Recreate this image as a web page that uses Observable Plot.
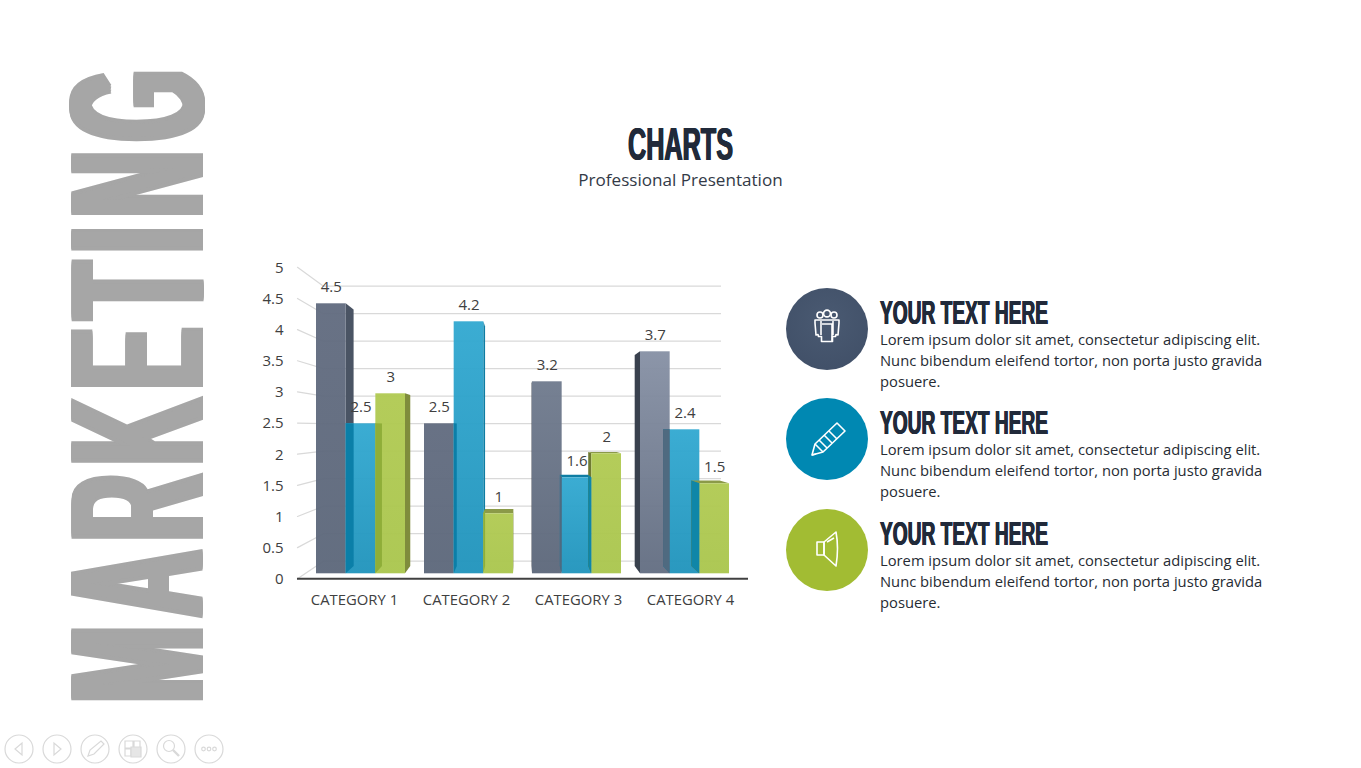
<!DOCTYPE html>
<html><head><meta charset="utf-8">
<script src="https://cdn.jsdelivr.net/npm/d3@7"></script>
<script src="https://cdn.jsdelivr.net/npm/@observablehq/plot@0.6"></script>
<style>
html,body{margin:0;padding:0;background:#fff;width:1361px;height:768px;overflow:hidden}
body{position:relative;font-family:"Open Sans",sans-serif}
.abs{position:absolute;white-space:nowrap}
#big{left:0;top:0;font:700 191px/1 "Liberation Sans",sans-serif;color:#a6a6a6;transform-origin:0 0;letter-spacing:22px;
 text-shadow:-9px 0 #a6a6a6,-6px 0 #a6a6a6,-3px 0 #a6a6a6,3px 0 #a6a6a6,6px 0 #a6a6a6,9px 0 #a6a6a6}
#title{left:628px;top:118px;font:700 46px/52px "Liberation Sans",sans-serif;color:#212a3a;transform-origin:0 0;
 text-shadow:-1px 0 #212a3a,1px 0 #212a3a}
#sub{left:0;width:1361px;text-align:center;top:168px;font:400 17.1px/24px "Open Sans",sans-serif;color:#333a47}
#chart{left:240px;top:250px}
.circ{position:absolute;left:786px;width:82px;height:82px;border-radius:50%}
.circ svg{position:absolute;left:0;top:0}
.head{left:880px;font:700 33px/36px "Liberation Sans",sans-serif;color:#212a3a;transform-origin:0 0;
 text-shadow:-.7px 0 #212a3a,.7px 0 #212a3a}
.line{left:880px;font:400 14.75px/21px "Open Sans",sans-serif;color:#262b33}
#nav{left:0;top:730px}
</style></head><body>
<div class="abs" id="big">MARKETING</div>
<div class="abs" id="title">CHARTS</div>
<div class="abs" id="sub">Professional Presentation</div>
<div class="abs" id="chart"></div>
<div id="side"></div>
<svg class="abs" id="nav" width="240" height="38" fill="none" stroke="#d9d9d9" stroke-width="1.2">
<circle cx="19" cy="19" r="14"/><path d="M22 13v12l-7-6z"/>
<circle cx="57" cy="19" r="14"/><path d="M54 13v12l7-6z"/>
<circle cx="95" cy="19" r="14"/><path d="M88 26l2-6 11-9 3 3-10 10z"/>
<circle cx="133" cy="19" r="14"/><path d="M125 11h8v7h-8zM134 11h6v7h-6zM125 19h6v7h-6z"/><path d="M131 17h10v10h-10z" fill="#e6e6e6"/>
<circle cx="171" cy="19" r="14"/><circle cx="169" cy="16" r="5.5"/><path d="M173 20l6 6" stroke-width="2.4"/>
<circle cx="209" cy="19" r="14"/><circle cx="203.500" cy="19" r="1.800"/><circle cx="209" cy="19" r="1.800"/><circle cx="214.500" cy="19" r="1.800"/>
</svg>
<script>
const categories = ["CATEGORY 1", "CATEGORY 2", "CATEGORY 3", "CATEGORY 4"];
const series1 = [4.5, 2.5, 3.2, 3.7];
const series2 = [2.5, 4.2, 1.6, 2.4];
const series3 = [3, 1, 2, 1.5];
const yTicks = [0, 0.5, 1, 1.5, 2, 2.5, 3, 3.5, 4, 4.5, 5];
const bodyLines = ["Lorem ipsum dolor sit amet, consectetur adipiscing elit.",
  "Nunc bibendum eleifend tortor, non porta justo gravida",
  "posuere."];
const headline = "YOUR TEXT HERE";

// Perspective of the 3-D chart, expressed in data units of the bar plane
const frontY = v => (62.3 * v - 5) / 60;   // axis plane
const wallBackY = v => 0.21 + 0.9167 * v;  // back wall
const boxBackY = v => 0.122 + 0.95 * v;    // back of each bar
const vanish = 1.907;
const boxBackX = u => u + 0.045 * (vanish - u);
const barW = 0.2747;

const styles = [
  {sideR: "#4a5464", sideL: "#39414e", top: "#48525f"},
  {sideR: "#0e7da3", sideL: "#0e7da3", top: "#0e7da3", overR: "#0b7fa8", overL: "#4f6a80"},
  {sideR: "#7f8c3c", sideL: "#6f7a32", top: "#8b9a48", overR: "#8fae38", overL: "#0f86a8"}
];
const allSeries = [series1, series2, series3];
const wallLeft = -0.176, wallBack = 0.065, wallRight = 3.75, axisRight = 4;

const gridRows = yTicks.map(v => ({y: wallBackY(v)}));
const wallRows = yTicks.flatMap(v => [{v, x: wallLeft, y: frontY(v)}, {v, x: wallBack, y: wallBackY(v)}]);
const labelX = categories.map((c, i) => 0.352 + i * 112 / 108);
const tickU = new Map(yTicks.map(v => [frontY(v), String(v)]));

const face = (id, edge, top) => [
  {id, x: edge, y1: 0, y2: top},
  {id, x: boxBackX(edge), y1: boxBackY(0), y2: boxBackY(top)}
];

const barMarks = allSeries.flatMap((vals, s) => {
  const bars = vals.map((v, i) => ({v, i, x1: i + s * barW, x2: i + (s + 1) * barW}));
  const sidesR = bars.filter(b => b.x2 < vanish).flatMap(b => face(b.i, b.x2, b.v));
  const sidesL = bars.filter(b => b.x1 > vanish).flatMap(b => face(b.i, b.x1, b.v));
  const tops = bars.filter(b => boxBackY(b.v) > b.v).flatMap(b => [
    {id: b.i, y: b.v, x1: b.x1, x2: b.x2},
    {id: b.i, y: boxBackY(b.v), x1: boxBackX(b.x1), x2: boxBackX(b.x2)}
  ]);
  const marks = [
    Plot.areaY(sidesR, {x: "x", y1: "y1", y2: "y2", z: "id", fill: styles[s].sideR}),
    Plot.areaY(sidesL, {x: "x", y1: "y1", y2: "y2", z: "id", fill: styles[s].sideL}),
    Plot.areaX(tops, {y: "y", x1: "x1", x2: "x2", z: "id", fill: styles[s].top}),
    Plot.rectY(bars, {x1: "x1", x2: "x2", y1: 0, y2: "v", fill: b => `url(#g${s}${s === 0 ? b.i : ""})`})
  ];
  if (s > 0) {
    // the neighbouring bar's depth seen through the translucent front faces
    const overlap = b => Math.min(b.v, allSeries[s - 1][b.i]);
    const overR = bars.filter(b => b.x1 < vanish).flatMap(b => face(b.i, b.x1, overlap(b)));
    const overL = bars.filter(b => b.x1 > vanish).flatMap(b => face(b.i, b.x1, overlap(b)));
    marks.push(
      Plot.areaY(overR, {x: "x", y1: "y1", y2: "y2", z: "id", fill: styles[s].overR}),
      Plot.areaY(overL, {x: "x", y1: "y1", y2: "y2", z: "id", fill: styles[s].overL})
    );
  }
  return marks;
});
const labelRows = allSeries.flatMap((vals, s) => vals.map((v, i) => ({v, x: i + (s + 0.5) * barW})));

const grad = (id, a, b) => `<linearGradient id="${id}" x1="0" y1="0" x2="0" y2="1"><stop offset="0" stop-color="${a}" stop-opacity=".96"/><stop offset="1" stop-color="${b}" stop-opacity=".96"/></linearGradient>`;
const defs = () => d3.create("svg:defs").html(
  grad("g00", "#626c80", "#5d687b") + grad("g01", "#626c80", "#5d687b") +
  grad("g02", "#707b8e", "#5d687b") + grad("g03", "#8791a5", "#636e82") +
  grad("g1", "#33a9d1", "#2194bc") + grad("g2", "#b1ca53", "#aac64e")
).node();

const plot = Plot.plot({
  width: 530, height: 370,
  marginLeft: 43, marginRight: 22, marginTop: 10, marginBottom: 29,
  style: {background: "transparent", overflow: "visible"},
  color: {type: "identity"},
  x: {domain: [0, 4], range: [76, 508]},
  y: {domain: [0, 5], range: [323.3, 23.3]},
  marks: [
    defs,
    Plot.ruleY(gridRows, {y: "y", x1: wallBack, x2: wallRight, stroke: "#d9d9d9", strokeWidth: 1.3}),
    Plot.line(wallRows, {x: "x", y: "y", z: "v", stroke: "#d9d9d9", strokeWidth: 1.2}),
    ...barMarks,
    Plot.ruleY([frontY(0)], {x1: wallLeft, x2: axisRight, stroke: "#404040", strokeWidth: 2}),
    Plot.axisY([...tickU.keys()], {anchor: "left", tickSize: 0, tickPadding: 0, label: null, dy: 0.5,
      tickFormat: u => tickU.get(u), fontSize: 15, fill: "#404040", fontFamily: "Open Sans"}),
    Plot.axisX(labelX, {anchor: "bottom", tickSize: 0, tickPadding: 3, label: null,
      tickFormat: u => categories[labelX.indexOf(u)], fontSize: 14.85, fill: "#404040", fontFamily: "Open Sans"}),
    Plot.text(labelRows, {x: "x", y: "v", text: d => String(d.v), dy: -16.5, fontSize: 15, fill: "#404040", fontFamily: "Open Sans"})
  ]
});
document.getElementById("chart").append(plot);

// Right-hand column
const rows = [
  {top: 288, bg: "radial-gradient(circle at 50% 40%,#4a5a72,#3f4e66)", icon: `<circle cx="34" cy="27" r="3"/><circle cx="41" cy="25.500" r="3.400"/><circle cx="48" cy="27" r="3"/><path d="M29 32h24v3l-1 12-2-.5-.5 2h-3v5h-11v-5h-3l-.5-2-2 .5-1-12z"/><path d="M35 33v14M47 33v14M36 36h10v18"/>`},
  {top: 398, bg: "#0088b2", icon: `<path d="M26 57l3-11 22-21 8 8-22 21z"/><path d="M29 46l8 8M33 42l8 8M38 37l8 8M43 33l8 8M26 57l4-1"/>`},
  {top: 509, bg: "#a2bc33", icon: `<path d="M31 33h7v13h-7z"/><path d="M38 33l12-10q3 16 0 34l-12-11z"/><path d="M41 33l7-4"/>`}
];
const side = document.getElementById("side");
const squeeze = (el, target) => { el.style.transform = `scaleX(${target / el.getBoundingClientRect().width})`; };
rows.forEach(r => {
  const c = document.createElement("div");
  c.className = "circ"; c.style.top = r.top + "px"; c.style.background = r.bg;
  c.innerHTML = `<svg width="82" height="82" fill="none" stroke="#fff" stroke-width="1.600" stroke-linejoin="round">${r.icon}</svg>`;
  side.append(c);
  const h = document.createElement("div");
  h.className = "abs head"; h.textContent = headline; h.style.top = (r.top + 7) + "px";
  side.append(h);
  squeeze(h, 168);
  bodyLines.forEach((t, i) => {
    const l = document.createElement("div");
    l.className = "abs line"; l.textContent = t; l.style.top = (r.top + 41 + i * 21) + "px";
    side.append(l);
  });
});
squeeze(document.getElementById("title"), 105);
const big = document.getElementById("big");
const bw = big.getBoundingClientRect().width;
big.style.transform = `translate(41.3px,702px) rotate(-90deg) scaleX(${642 / bw})`;
</script>
</body></html>
